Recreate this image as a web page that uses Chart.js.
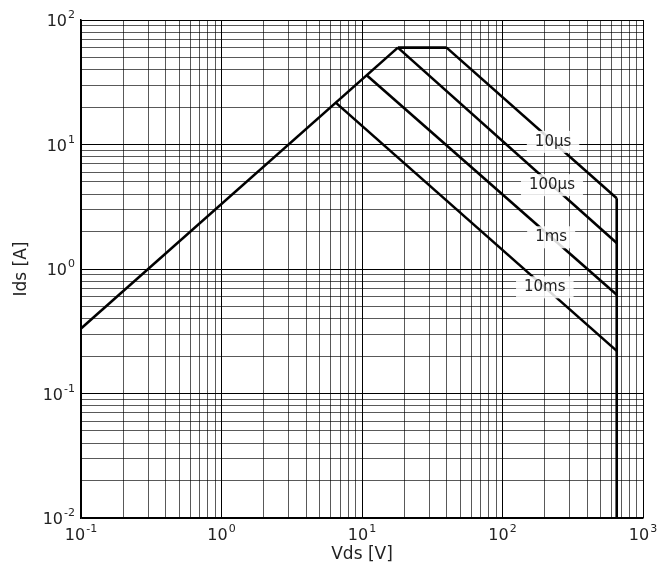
<!DOCTYPE html>
<html>
<head>
<meta charset="utf-8">
<script src="https://cdn.jsdelivr.net/npm/chart.js@4/dist/chart.umd.min.js"></script>
<style>
  html, body { margin: 0; padding: 0; background: #fff; }
  #wrap { width: 658px; height: 575px; }
</style>
</head>
<body>
<div id="wrap"><canvas id="myChart"></canvas></div>
<script>
// Datos del SOA (escala log-log)
var ohmicV = [0.1, 18];
var ohmicI = [0.333, 60];
var limitV = [18, 40];
var limitI = [60, 60];
var pulseLabels = ['10μs', '100μs', '1ms', '10ms'];
var startV = [40, 18, 10.8, 6.5];
var startI = [60, 60, 36, 21.7];
var endV = 650;
var endI = [3.7, 1.62, 0.62, 0.22];
var labelV = [229, 225, 222, 200];
var breakdownI = [3.7, 0.01];
var xDecades = [-1, 0, 1, 2, 3];
var yDecades = [-2, -1, 0, 1, 2];

var xTickValues = [];
for (var e = -1; e < 3; e++) for (var m = 1; m < 10; m++) xTickValues.push(m * Math.pow(10, e));
xTickValues.push(1000);
var yTickValues = [];
for (var e = -2; e < 2; e++) for (var m = 1; m < 10; m++) yTickValues.push(m * Math.pow(10, e));
yTickValues.push(100);

function isDecade(v) {
    var l = Math.log10(v);
    return Math.abs(l - Math.round(l)) < 1e-9;
}
function pts(xs, ys) {
    return xs.map(function (x, i) { return {x: x, y: ys[i]}; });
}

var lineStyle = {borderColor: '#000', borderWidth: 2.6, pointRadius: 0, showLine: true, fill: false, tension: 0};
var datasets = [
    Object.assign({data: pts(ohmicV, ohmicI)}, lineStyle),
    Object.assign({data: pts(limitV, limitI)}, lineStyle),
    Object.assign({data: pts([endV, endV], breakdownI)}, lineStyle)
];
pulseLabels.forEach(function (lab, i) {
    datasets.push(Object.assign({label: lab, data: pts([startV[i], endV], [startI[i], endI[i]])}, lineStyle));
});

// etiquetas 10^n con exponente
function drawPow(c, exp, x, y, align) {
    c.font = '16px "DejaVu Sans"';
    var wb = c.measureText('10').width;
    c.font = '11px "DejaVu Sans"';
    var we = c.measureText(String(exp)).width;
    var x0 = align === 'right' ? x - wb - we - 1 : x - (wb + we + 1) / 2;
    c.textAlign = 'left';
    c.textBaseline = 'alphabetic';
    c.font = '16px "DejaVu Sans"';
    c.fillText('10', x0, y);
    c.font = '11px "DejaVu Sans"';
    c.fillText(String(exp), x0 + wb + 1, y - 8);
}

var tickLabels = {
    id: 'tickLabels',
    afterDraw: function (chart) {
        var c = chart.ctx, xs = chart.scales.x, ys = chart.scales.y, a = chart.chartArea;
        c.save();
        c.fillStyle = '#222';
        xDecades.forEach(function (e) {
            drawPow(c, e, xs.getPixelForValue(Math.pow(10, e)), a.bottom + 22, 'center');
        });
        yDecades.forEach(function (e) {
            drawPow(c, e, a.left - 6, ys.getPixelForValue(Math.pow(10, e)) + 6, 'right');
        });
        c.restore();
    }
};

// etiquetas en línea con fondo blanco
var inlineLabels = {
    id: 'inlineLabels',
    afterDatasetsDraw: function (chart) {
        var c = chart.ctx, xs = chart.scales.x, ys = chart.scales.y;
        c.save();
        c.font = '15px "DejaVu Sans"';
        c.textAlign = 'center';
        c.textBaseline = 'middle';
        pulseLabels.forEach(function (lab, i) {
            var t = (Math.log10(labelV[i]) - Math.log10(startV[i])) / (Math.log10(endV) - Math.log10(startV[i]));
            var ly = Math.pow(10, Math.log10(startI[i]) + t * (Math.log10(endI[i]) - Math.log10(startI[i])));
            var px = xs.getPixelForValue(labelV[i]);
            var py = ys.getPixelForValue(ly);
            var w = c.measureText(lab).width + 16;
            c.fillStyle = 'rgba(255,255,255,0.85)';
            c.fillRect(px - w / 2, py - 11, w, 22);
            c.fillStyle = '#222';
            c.fillText(lab, px, py);
        });
        c.restore();
    }
};

var ctx = document.getElementById('myChart').getContext('2d');
var myChart = new Chart(ctx, {
    type: 'scatter',
    data: {datasets: datasets},
    options: {
        responsive: true,
        maintainAspectRatio: false,
        animation: false,
        layout: {padding: {top: 20, right: 15, left: 0, bottom: 0}},
        plugins: {legend: {display: false}, tooltip: {enabled: false}},
        scales: {
            x: {
                type: 'logarithmic',
                min: 0.1, max: 1000,
                afterBuildTicks: function (s) { s.ticks = xTickValues.map(function (v) { return {value: v}; }); },
                afterFit: function (s) { s.height = 57; },
                ticks: {display: false},
                grid: {drawTicks: false,
                       color: function (c) { return isDecade(c.tick.value) ? '#000' : 'rgba(0,0,0,0.65)'; },
                       lineWidth: 1},
                border: {color: '#000', width: 1.5},
                title: {display: true, text: 'Vds [V]', color: '#222',
                        font: {family: 'DejaVu Sans', size: 17}, padding: {top: 2, bottom: 10}}
            },
            y: {
                type: 'logarithmic',
                min: 0.01, max: 100,
                afterBuildTicks: function (s) { s.ticks = yTickValues.map(function (v) { return {value: v}; }); },
                afterFit: function (s) { s.width = 81; },
                ticks: {display: false},
                grid: {drawTicks: false,
                       color: function (c) { return isDecade(c.tick.value) ? '#000' : 'rgba(0,0,0,0.65)'; },
                       lineWidth: 1},
                border: {color: '#000', width: 1.5},
                title: {display: true, text: 'Ids [A]', color: '#222',
                        font: {family: 'DejaVu Sans', size: 17}, padding: {top: 11, bottom: 0}}
            }
        }
    },
    plugins: [inlineLabels, tickLabels]
});
</script>
</body>
</html>
